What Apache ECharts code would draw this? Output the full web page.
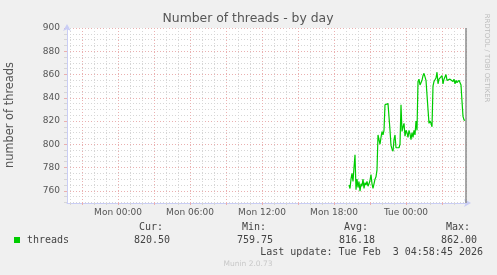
<!DOCTYPE html>
<html><head><meta charset="utf-8">
<script src="https://cdn.jsdelivr.net/npm/echarts@6/dist/echarts.min.js"></script>
<style>html,body{margin:0;padding:0;background:#f0f0f0}#c{width:497px;height:275px}</style>
</head><body><div id="c"></div>
<script>
const chartTitle = 'Number of threads - by day';
const yAxisName = 'number of threads';
const seriesName = 'threads';
const sideText = 'RRDTOOL / TOBI OETIKER';
const footerText = 'Munin 2.0.73';
const lastUpdateText = 'Last update: Tue Feb  3 04:58:45 2026';

// samples every 5 minutes starting at sampleStart
const sampleStart = 'Mon 19:15';
const sampleStepMinutes = 5;
const threads = [
  765, 762, 770, 775, 768, 780, 791, 761, 770, 763,
  768, 759.75, 766, 764, 770, 762, 767, 765, 768, 764,
  766, 769, 774, 766, 762, 766, 770, 772, 778, 808,
  804, 800, 806, 811, 808, 812, 834, 835, 835, 835,
  834, 812, 799, 796, 794, 804, 808, 797, 798, 796,
  797, 800, 834, 811, 815, 818, 807, 812, 810, 806,
  812, 809, 804, 810, 806, 812, 808, 820, 812, 854,
  856, 851, 853, 855, 859, 861, 858, 855, 856, 830,
  818, 820, 818, 815, 850, 854, 853, 857, 862, 852,
  856, 855, 857, 859, 852, 856, 855, 860, 855, 856,
  855, 856, 857, 855, 854, 856, 852, 855, 853, 854,
  855, 855, 851, 837, 824, 821, 820.5
];

const axisStart = 'Sun 19:45';
const axisEnd = 'Tue 05:05';
const lastUpdate = 'Tue 04:58:45';
const xLabelTicks = ['Mon 00:00', 'Mon 06:00', 'Mon 12:00', 'Mon 18:00', 'Tue 00:00'];
const xMajorTicks = ['Sun 21:00', 'Mon 00:00', 'Mon 03:00', 'Mon 06:00', 'Mon 09:00', 'Mon 12:00',
  'Mon 15:00', 'Mon 18:00', 'Mon 21:00', 'Tue 00:00', 'Tue 03:00'];
const xMinorStepHours = 1;

const yMin = 749.5, yMax = 900;
const yLabelTicks = [760, 780, 800, 820, 840, 860, 880, 900];
const yMinorStep = 5;

const statLabels = ['Cur:', 'Min:', 'Avg:', 'Max:'];
const statValues = ['820.50', '759.75', '816.18', '862.00'];

const dayIndex = { Sun: -1, Mon: 0, Tue: 1 };
function toHours(s) {
  const [d, t] = s.split(' ');
  const p = t.split(':').map(Number);
  return dayIndex[d] * 24 + p[0] + p[1] / 60 + (p[2] || 0) / 3600;
}
const xMin = toHours(axisStart), xMax = toHours(axisEnd);
const t0 = toHours(sampleStart);
const lineData = threads.map((v, i) => [t0 + i * sampleStepMinutes / 60, v]);

const xMinor = [];
for (let h = Math.ceil(xMin); h <= xMax; h += xMinorStepHours) xMinor.push(h);
const yMinor = [];
for (let v = Math.ceil(yMin / yMinorStep) * yMinorStep; v <= yMax; v += yMinorStep) yMinor.push(v);

const labelNames = {};
xLabelTicks.forEach(s => labelNames[toHours(s).toFixed(3)] = s);

const minorColor = '#d6d6d6';
const majorColor = '#eab0b0';
const axisColor = '#c9cdf5';
const fontSans = '"DejaVu Sans", sans-serif';
const fontMono = '"DejaVu Sans Mono", monospace';

const gridBox = { left: 67, top: 28, width: 400, height: 175 };

const chart = echarts.init(document.getElementById('c'), null, { renderer: 'canvas' });

const baseX = {
  type: 'value', min: xMin, max: xMax, position: 'bottom', gridIndex: 0,
  axisLine: { show: false, onZero: false },
  axisTick: { show: false }, axisLabel: { show: false }, splitLine: { show: false }
};
const baseY = {
  type: 'value', min: yMin, max: yMax, position: 'left', gridIndex: 0,
  axisLine: { show: false, onZero: false },
  axisTick: { show: false }, axisLabel: { show: false }, splitLine: { show: false }
};

const statX = [163, 266, 368, 470];
const graphics = [
  { type: 'text', x: 248, y: 19, style: { text: chartTitle, font: '12.4px ' + fontSans, fill: '#555', align: 'center', verticalAlign: 'middle' } },
  { type: 'text', x: 10, y: 115, rotation: Math.PI / 2, style: { text: yAxisName, font: '11.4px ' + fontSans, fill: '#555', align: 'center', verticalAlign: 'middle' } },
  { type: 'text', x: 486.5, y: 58, rotation: -Math.PI / 2, style: { text: sideText, font: '6.9px ' + fontSans, fill: '#bdbdbd', align: 'center', verticalAlign: 'middle' } },
  { type: 'rect', shape: { x: 14, y: 237, width: 6, height: 6 }, style: { fill: '#00cc00' } },
  { type: 'text', x: 27, y: 240, style: { text: seriesName, font: '10px ' + fontMono, fill: '#444', align: 'left', verticalAlign: 'middle' } },
  { type: 'text', x: 483, y: 252, style: { text: lastUpdateText, font: '10px ' + fontMono, fill: '#444', align: 'right', verticalAlign: 'middle' } },
  { type: 'text', x: 248, y: 264, style: { text: footerText, font: '7.5px ' + fontSans, fill: '#c8c8c8', align: 'center', verticalAlign: 'middle' } }
];
statLabels.forEach((l, i) => {
  graphics.push({ type: 'text', x: statX[i], y: 227.5, style: { text: l, font: '10px ' + fontMono, fill: '#444', align: 'right', verticalAlign: 'middle' } });
  graphics.push({ type: 'text', x: statX[i] + 7, y: 240, style: { text: statValues[i], font: '10px ' + fontMono, fill: '#444', align: 'right', verticalAlign: 'middle' } });
});

chart.setOption({
  animation: false,
  backgroundColor: '#f0f0f0',
  grid: Object.assign({ show: true, backgroundColor: '#ffffff', borderWidth: 0 }, gridBox),
  xAxis: [
    // minor hourly grid
    Object.assign({}, baseX, {
      axisTick: { show: true, customValues: xMinor, length: 2, lineStyle: { color: minorColor } },
      splitLine: { show: true, lineStyle: { color: minorColor, type: [1, 2], width: 1 } }
    }),
    // major 3-hourly grid
    Object.assign({}, baseX, {
      axisTick: { show: true, customValues: xMajorTicks.map(toHours), length: 2, lineStyle: { color: majorColor } },
      splitLine: { show: true, lineStyle: { color: majorColor, type: [1, 2], width: 1 } }
    }),
    // axis line + labels
    Object.assign({}, baseX, {
      axisLine: { show: true, onZero: false, lineStyle: { color: axisColor, width: 1 }, symbol: ['none', 'arrow'], symbolSize: [6, 7], symbolOffset: [0, 4] },
      axisLabel: { show: true, customValues: xLabelTicks.map(toHours), margin: 5, fontSize: 9, fontFamily: fontSans, color: '#555', formatter: v => labelNames[v.toFixed(3)] || '' }
    })
  ],
  yAxis: [
    Object.assign({}, baseY, {
      axisTick: { show: true, customValues: yMinor, length: 3, lineStyle: { color: minorColor } },
      splitLine: { show: true, lineStyle: { color: minorColor, type: [1, 2], width: 1 } }
    }),
    Object.assign({}, baseY, {
      axisTick: { show: true, customValues: yLabelTicks, length: 3, lineStyle: { color: majorColor } },
      splitLine: { show: true, lineStyle: { color: majorColor, type: [1, 2], width: 1 } }
    }),
    Object.assign({}, baseY, {
      axisLine: { show: true, onZero: false, lineStyle: { color: axisColor, width: 1 }, symbol: ['none', 'arrow'], symbolSize: [6, 7], symbolOffset: [0, 4] },
      axisLabel: { show: true, customValues: yLabelTicks, margin: 7, fontSize: 9, fontFamily: fontSans, color: '#555' }
    })
  ],
  graphic: graphics,
  series: [{
    name: seriesName, type: 'line', xAxisIndex: 0, yAxisIndex: 0,
    data: lineData, showSymbol: false, symbol: 'none',
    lineStyle: { color: '#00cc00', width: 1.2 },
    z: 5,
    markLine: {
      silent: true, symbol: 'none', label: { show: false },
      lineStyle: { color: '#8a8a8a', type: 'solid', width: 1.5 },
      data: [{ xAxis: toHours(lastUpdate) }]
    }
  }]
});
</script></body></html>
